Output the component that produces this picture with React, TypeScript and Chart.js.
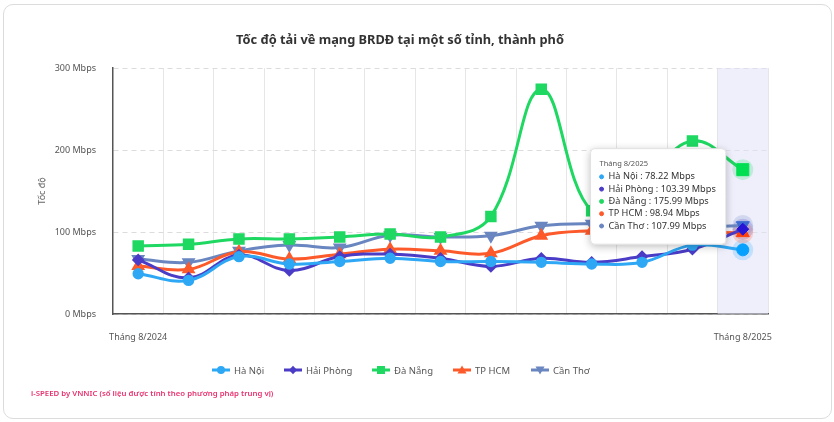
import React, { useEffect, useRef } from "react";
import { Chart, registerables, Tooltip } from "chart.js";

Chart.register(...registerables);

const months = [
  "Tháng 8/2024", "Tháng 9/2024", "Tháng 10/2024", "Tháng 11/2024", "Tháng 12/2024",
  "Tháng 1/2025", "Tháng 2/2025", "Tháng 3/2025", "Tháng 4/2025", "Tháng 5/2025",
  "Tháng 6/2025", "Tháng 7/2025", "Tháng 8/2025",
];
const yTickValues = [0, 100, 200, 300];

const haNoi = [49, 41, 70, 61, 64, 68, 64, 64, 63, 61, 63, 84, 78.22];
const haiPhong = [66, 44, 72, 53, 70, 73, 68, 58, 68, 63, 70, 79, 103.39];
const daNang = [83, 85, 91.5, 91.5, 94, 97.5, 94, 119, 274, 126, 160, 211, 175.99];
const tpHcm = [58.5, 54.5, 76, 67, 73, 79, 77, 74, 95.5, 101.5, 102, 100, 98.94];
const canTho = [67, 63, 77, 84, 81, 96, 94, 95.5, 107.5, 110, 108, 106, 107.99];

const seriesNames = ["Hà Nội", "Hải Phòng", "Đà Nẵng", "TP HCM", "Cần Thơ"];
const seriesValues = [haNoi, haiPhong, daNang, tpHcm, canTho];

const seriesColors = ["#2ea8f4", "#4a3cc6", "#1fd862", "#fd5a2b", "#6a86c1"];
const pointStyles = ["circle", "rectRot", "rect", "triangle", "triangle"];
const pointRotations = [0, 0, 0, 0, 180];
const pointRadii = [4.2, 4.2, 6, 5, 5];
const hoverRadii = [6, 6, 8.5, 7.5, 7.5];

const titleText = "Tốc độ tải về mạng BRDĐ tại một số tỉnh, thành phố";
const footerText = "i-SPEED by VNNIC (số liệu được tính theo phương pháp trung vị)";
const fontFamily = "'Noto Sans', 'DejaVu Sans', sans-serif";

function hexA(hex: string, a: number) {
  const n = parseInt(hex.slice(1), 16);
  return `rgba(${(n >> 16) & 255},${(n >> 8) & 255},${n & 255},${a})`;
}

(Tooltip.positioners as any).leftOfPoint = function (items: any[]) {
  if (!items.length) return false;
  const ca = this.chart.chartArea;
  return {
    x: items[0].element.x - 17,
    y: ca.top + (ca.bottom - ca.top) * 0.522,
    xAlign: "right",
    yAlign: "center",
  };
};

const bandPlugin = {
  id: "bandAndHalo",
  beforeDatasetsDraw(chart: any) {
    const act = chart.getActiveElements();
    if (!act.length) return;
    const { ctx, chartArea: ca } = chart;
    const xs = chart.scales.x;
    const step = xs.width / months.length;
    const cx = xs.getPixelForValue(act[0].index);
    ctx.save();
    ctx.fillStyle = "rgba(226,226,250,0.55)";
    ctx.fillRect(cx - step / 2, ca.top, step, ca.bottom - ca.top);
    act.forEach((a: any) => {
      const col = seriesColors[a.datasetIndex];
      ctx.beginPath();
      ctx.fillStyle = hexA(col, 0.22);
      ctx.arc(a.element.x, a.element.y, 10.5, 0, Math.PI * 2);
      ctx.fill();
    });
    ctx.restore();
  },
  beforeTooltipDraw(chart: any, args: any) {
    const t = args.tooltip;
    if (!t || !t.opacity) return;
    const ctx = chart.ctx;
    ctx.save();
    ctx.shadowColor = "rgba(0,0,0,0.28)";
    ctx.shadowBlur = 8;
    ctx.shadowOffsetY = 2;
    ctx.fillStyle = "#fff";
    ctx.beginPath();
    (ctx as any).roundRect(t.x, t.y, t.width, t.height, 4);
    ctx.fill();
    ctx.restore();
  },
};

function LegendIcon({ idx }: { idx: number }) {
  const c = seriesColors[idx];
  let marker: any = null;
  if (idx === 0) marker = <circle cx={9} cy={5} r={4} fill={c} />;
  if (idx === 1) marker = <polygon points="9,0.8 13,5 9,9.2 5,5" fill={c} />;
  if (idx === 2) marker = <rect x={5} y={1} width={8} height={8} fill={c} />;
  if (idx === 3) marker = <polygon points="9,0.5 13.5,8.5 4.5,8.5" fill={c} />;
  if (idx === 4) marker = <polygon points="9,9.5 13.5,1.5 4.5,1.5" fill={c} />;
  return (
    <svg width={18} height={10} style={{ display: "block" }}>
      <line x1={0} y1={5} x2={18} y2={5} stroke={c} strokeWidth={3} />
      {marker}
    </svg>
  );
}

const legendLeft = [212, 284, 372, 453, 531];

export default function App() {
  const canvasRef = useRef<HTMLCanvasElement | null>(null);

  useEffect(() => {
    if (!canvasRef.current) return;
    const datasets = seriesNames.map((name, i) => ({
      label: name,
      data: seriesValues[i],
      borderColor: seriesColors[i],
      backgroundColor: seriesColors[i],
      pointBackgroundColor: seriesColors[i],
      pointBorderColor: seriesColors[i],
      pointStyle: pointStyles[i] as any,
      rotation: pointRotations[i],
      pointRadius: pointRadii[i],
      pointHoverRadius: hoverRadii[i],
      pointHoverBorderWidth: 1,
      borderWidth: 3,
      tension: 0.4,
      fill: false,
    }));
    const chart = new Chart(canvasRef.current, {
      type: "line",
      data: { labels: months, datasets },
      plugins: [bandPlugin],
      options: {
        responsive: false,
        animation: false,
        events: [],
        layout: { padding: { left: 0, right: 66, top: 68, bottom: 68 } },
        interaction: { mode: "index", intersect: false },
        scales: {
          x: {
            type: "category",
            offset: true,
            grid: { offset: true, color: "#e6e6e6", lineWidth: 1, drawTicks: false },
            border: { color: "#555", width: 1.5 },
            ticks: {
              autoSkip: false,
              maxRotation: 0,
              padding: 18,
              color: "#555",
              font: { family: fontFamily, size: 9 },
              callback: (v: any, i: number) =>
                i === 0 || i === months.length - 1 ? months[i] : "",
            },
            afterFit: (s: any) => {
              s.height = 40;
            },
          },
          y: {
            min: 0,
            max: 300,
            afterBuildTicks: (s: any) => {
              s.ticks = yTickValues.map((v) => ({ value: v }));
            },
            grid: { color: "#dcdcdc", drawTicks: false },
            border: { color: "#555", width: 1.5, dash: [5, 4] },
            ticks: {
              padding: 17,
              color: "#555",
              font: { family: fontFamily, size: 9 },
              callback: (v: any) => `${v} Mbps`,
            },
            title: {
              display: true,
              text: "Tốc độ",
              color: "#666",
              font: { family: fontFamily, size: 9 },
              padding: { top: 37, bottom: 0 },
            },
            afterFit: (s: any) => {
              s.width = 113;
            },
          },
        },
        plugins: {
          legend: { display: false },
          title: { display: false },
          tooltip: {
            enabled: true,
            position: "leftOfPoint" as any,
            backgroundColor: "#ffffff",
            borderColor: "#e2e2e2",
            borderWidth: 1,
            cornerRadius: 4,
            caretSize: 0,
            caretPadding: 0,
            padding: { top: 11, bottom: 12, left: 9, right: 10 },
            titleColor: "#555",
            titleFont: { family: fontFamily, size: 7.5, weight: "normal" as any },
            titleMarginBottom: 2,
            bodyColor: "#333",
            bodyFont: { family: fontFamily, size: 9.2, lineHeight: "12.3px" as any },
            bodySpacing: 0,
            usePointStyle: true,
            boxWidth: 4,
            boxHeight: 4,
            boxPadding: 3,
            callbacks: {
              label: (ctx: any) => `${ctx.dataset.label} : ${ctx.raw} Mbps`,
              labelPointStyle: () => ({ pointStyle: "circle" as any, rotation: 0 }),
              labelColor: (ctx: any) => ({
                borderColor: seriesColors[ctx.datasetIndex],
                backgroundColor: seriesColors[ctx.datasetIndex],
                borderWidth: 0,
              }),
            },
          },
        },
      },
    });
    const active = seriesNames.map((_, i) => ({ datasetIndex: i, index: months.length - 1 }));
    chart.setActiveElements(active);
    chart.tooltip!.setActiveElements(active, { x: 0, y: 0 });
    chart.update();
    return () => chart.destroy();
  }, []);

  return (
    <div style={{ position: "absolute", left: 0, top: 0, width: 834, height: 422, background: "#fff", fontFamily }}>
      <div
        style={{
          position: "absolute",
          left: 3,
          top: 4,
          width: 829,
          height: 415,
          border: "1.5px solid #dcdcdc",
          borderRadius: 10,
          boxSizing: "border-box",
        }}
      />
      <canvas ref={canvasRef} width={834} height={422} style={{ position: "absolute", left: 0, top: 0, width: 834, height: 422 }} />
      <div
        style={{
          position: "absolute",
          left: 0,
          width: 800,
          top: 30,
          textAlign: "center",
          fontSize: 12.8,
          fontWeight: 700,
          color: "#333",
          lineHeight: "18px",
        }}
      >
        {titleText}
      </div>
      {seriesNames.map((name, i) => (
        <div
          key={name}
          style={{
            position: "absolute",
            left: legendLeft[i],
            top: 364,
            display: "flex",
            alignItems: "center",
            height: 12,
          }}
        >
          <LegendIcon idx={i} />
          <span style={{ marginLeft: 4, fontSize: 9.5, color: "#555", whiteSpace: "nowrap" }}>{name}</span>
        </div>
      ))}
      <div
        style={{
          position: "absolute",
          left: 31,
          top: 388,
          fontSize: 7.8,
          fontWeight: 600,
          color: "#e8336f",
          whiteSpace: "nowrap",
          lineHeight: "10px",
        }}
      >
        {footerText}
      </div>
    </div>
  );
}
